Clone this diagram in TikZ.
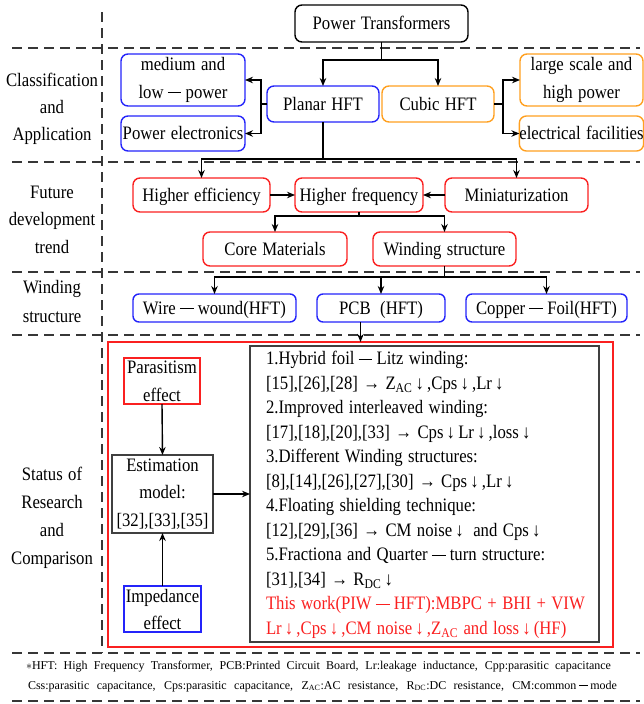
\documentclass[tikz,border=0pt]{standalone}
\usepackage{fontspec}
\setmainfont{Liberation Serif}[FakeStretch=0.88, WordSpace=1.3]
\newfontfamily\notefont{Liberation Serif}[WordSpace=1.2]
\usetikzlibrary{arrows.meta}

\definecolor{boxblue}{RGB}{36,36,250}
\definecolor{boxorange}{RGB}{255,160,32}
\definecolor{boxred}{RGB}{250,32,32}
\definecolor{framegray}{RGB}{64,64,64}
\definecolor{sepgray}{RGB}{55,55,55}

% long dash used between compound words
\newcommand{\wdash}{\hspace{0.22em}\rule[0.27em]{0.72em}{0.06em}\hspace{0.22em}}

\begin{document}
\begin{tikzpicture}[x=1pt, y=-1pt,
  every node/.style={inner sep=0pt, outer sep=0pt},
  txt/.style={font=\fontsize{19}{27}\selectfont, align=center},
  one/.style={text height=13.4pt, text depth=0.8pt},
  rbox/.style={txt, draw=#1, line width=1.4pt, rounded corners=7pt},
  sbox/.style={txt, draw=#1, line width=1.4pt},
  link/.style={draw=black, line width=1.4pt},
  arr/.style={link, -{Stealth[length=8pt, width=6.5pt]}},
  sep/.style={draw=sepgray, line width=1.8pt, dash pattern=on 10pt off 6pt},
  note/.style={anchor=base west, font=\notefont\fontsize{12}{14}\selectfont},
]
\useasboundingbox (0,0) rectangle (644,704);

% section separators
\foreach \yy in {48,162,272,335,653,701}
  \draw[sep] (12,\yy) -- (640,\yy);
\draw[sep] (102,12) -- (102,653);

% row labels
\node[txt] (labA) at (52,109) {Classification\\and\\Application};
\node[txt, font=\fontsize{19}{27.5}\selectfont] (labB) at (52,219.5) {Future\\development\\trend};
\node[txt, font=\fontsize{19}{29}\selectfont] (labC) at (52,301.5) {Winding\\structure};
\node[txt, font=\fontsize{19}{28}\selectfont] (labD) at (52,518) {Status of\\Research\\and\\Comparison};

% classification and application
\node[rbox=black, one, minimum width=173, minimum height=37] (pt) at (381.5,23.5) {Power Transformers};
\node[rbox=boxblue, one, minimum width=112, minimum height=36] (planar) at (323,104) {Planar HFT};
\node[rbox=boxorange, one, minimum width=112, minimum height=36] (cubic) at (438,104) {Cubic HFT};
\node[rbox=boxblue, font=\fontsize{19}{28}\selectfont, minimum width=124, minimum height=52] (med) at (183,80) {medium and\\low\wdash power};
\node[rbox=boxblue, one, minimum width=124, minimum height=35] (pe) at (183,133.5) {Power electronics};
\node[rbox=boxorange, font=\fontsize{19}{28}\selectfont, minimum width=123, minimum height=52] (large) at (581.5,80) {large scale and\\high power};
\node[rbox=boxorange, one, minimum width=123, minimum height=35] (elec) at (581.5,133.5) {electrical facilities};

% future development trend
\node[rbox=boxred, one, minimum width=137, minimum height=34] (eff) at (201.5,195) {Higher efficiency};
\node[rbox=boxred, one, minimum width=128, minimum height=34] (freq) at (359,195) {Higher frequency};
\node[rbox=boxred, one, minimum width=143, minimum height=34] (mini) at (516.5,195) {Miniaturization};
\node[rbox=boxred, one, minimum width=144, minimum height=34] (core) at (275,249) {Core Materials};
\node[rbox=boxred, one, minimum width=143, minimum height=34] (wind) at (444.5,249) {Winding structure};

% winding structure
\node[rbox=boxblue, one, rounded corners=6pt, minimum width=163, minimum height=28] (ww) at (214.5,308) {Wire\wdash wound(HFT)};
\node[rbox=boxblue, one, rounded corners=6pt, minimum width=128, minimum height=28] (pcb) at (381,308) {PCB\enspace(HFT)};
\node[rbox=boxblue, one, rounded corners=6pt, minimum width=161, minimum height=28] (cu) at (546.5,308) {Copper\wdash Foil(HFT)};

% status of research and comparison
\node[draw=boxred, line width=1.4pt, minimum width=505, minimum height=305] (status) at (360.5,494.5) {};
\node[sbox=boxred, font=\fontsize{19}{28}\selectfont, minimum width=76, minimum height=46] (par) at (162,381) {Parasitism\\effect};
\node[sbox=framegray, font=\fontsize{19}{27.5}\selectfont, minimum width=101, minimum height=78] (est) at (162.5,494) {Estimation\\model:\\{}[32],[33],[35]};
\node[sbox=boxblue, minimum width=77, minimum height=46] (imp) at (162.5,609) {Impedance\\effect};
\node[draw=framegray, line width=1.4pt, minimum width=349, minimum height=296] (list) at (424.5,494) {};
\node[anchor=north west, align=left, font=\fontsize{19}{24.5}\selectfont] (listtxt) at (266,351.5) {%
1.Hybrid foil\wdash Litz winding:\\
{}[15],[26],[28] → Z\textsubscript{AC}\,↓\,,Cps\,↓\,,Lr\,↓\\
2.Improved interleaved winding:\\
{}[17],[18],[20],[33] → Cps\,↓\,Lr\,↓\,,loss\,↓\\
3.Different Winding structures:\\
{}[8],[14],[26],[27],[30] → Cps\,↓\,,Lr\,↓\\
4.Floating shielding technique:\\
{}[12],[29],[36] → CM noise\,↓\enspace and Cps\,↓\\
5.Fractiona and Quarter\wdash turn structure:\\
{}[31],[34] → R\textsubscript{DC}\,↓\\
\textcolor{boxred}{This work(PIW\wdash HFT):MBPC + BHI + VIW}\\
\textcolor{boxred}{Lr\,↓\,,Cps\,↓\,,CM noise\,↓\,,Z\textsubscript{AC} and loss\,↓\,(HF)}};

% footnote
\node[note] (fnA) at (26,669)
  {\makebox[585pt][s]{$\ast$HFT: High Frequency Transformer, PCB:Printed Circuit Board, Lr:leakage inductance, Cpp:parasitic capacitance}};
\node[note] (fnB) at (28,689)
  {\makebox[589pt][s]{Css:parasitic capacitance, Cps:parasitic capacitance, Z\textsubscript{AC}:AC resistance, R\textsubscript{DC}:DC resistance, CM:common\wdash mode}};

% junction levels and bracket columns
\coordinate (lvA) at (0,60);
\coordinate (lvB) at (0,159);
\coordinate (lvC) at (0,216);
\coordinate (lvD) at (0,277);
\coordinate (brL) at (261,0);
\coordinate (brR) at (503,0);

% connectors
\draw[link] (pt.south) -- (pt.south |- lvA);
\draw[arr] (pt.south |- lvA) -| (planar.north);
\draw[arr] (pt.south |- lvA) -| (cubic.north);

\draw[arr] (planar.west) -- (planar.west -| brL) |- (med.east);
\draw[arr] (planar.west) -- (planar.west -| brL) |- (pe.east);
\draw[arr] (cubic.east) -- (cubic.east -| brR) |- (large.west);
\draw[arr] (cubic.east) -- (cubic.east -| brR) |- (elec.west);

\draw[link] (planar.south) -- (planar.south |- lvB);
\draw[arr] (planar.south |- lvB) -| (eff.north);
\draw[arr] (planar.south |- lvB) -| (mini.north);
\draw[arr] (eff.east) -- (freq.west);
\draw[arr] (mini.west) -- (freq.east);

\draw[link] (freq.south) -- (freq.south |- lvC);
\draw[arr] (freq.south |- lvC) -| (core.north);
\draw[arr] (freq.south |- lvC) -| (wind.north);

\draw[link] (wind.south) -- (wind.south |- lvD);
\draw[arr] (wind.south |- lvD) -| (ww.north);
\draw[arr] (wind.south |- lvD) -| (pcb.north);
\draw[arr] (wind.south |- lvD) -| (cu.north);

\draw[arr] (status.north |- pcb.south) -- (status.north);
\draw[arr] (par.south) -- (est.north);
\draw[arr] (imp.north) -- (est.south);
\draw[arr] (est.east) -- (list.west);
\end{tikzpicture}
\end{document}
